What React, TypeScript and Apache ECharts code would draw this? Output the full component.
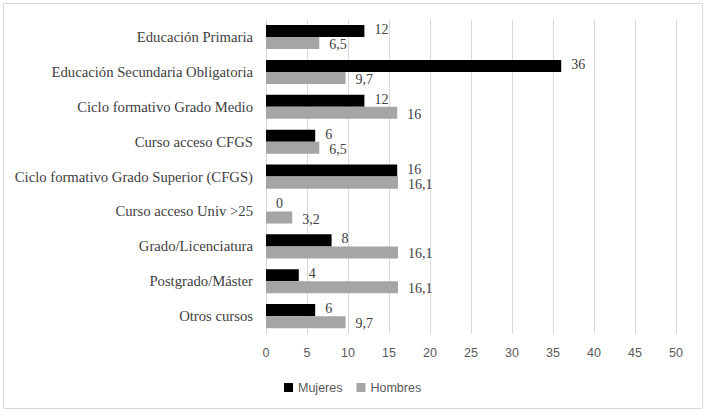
import React, { useEffect, useRef } from "react";
import * as echarts from "echarts";

const categories = [
  "Educación Primaria",
  "Educación Secundaria Obligatoria",
  "Ciclo formativo Grado Medio",
  "Curso acceso CFGS",
  "Ciclo formativo Grado Superior (CFGS)",
  "Curso acceso Univ >25",
  "Grado/Licenciatura",
  "Postgrado/Máster",
  "Otros cursos",
];
const mujeres = [12, 36, 12, 6, 16, 0, 8, 4, 6];
const hombres = [6.5, 9.7, 16, 6.5, 16.1, 3.2, 16.1, 16.1, 9.7];
const xTicks = { min: 0, max: 50, interval: 5 };

const serif = "'Liberation Serif', 'Times New Roman', serif";
const sans = "'Liberation Sans', Arial, sans-serif";

export default function App() {
  const ref = useRef<HTMLDivElement>(null);
  useEffect(() => {
    document.body.style.margin = "0";
    const chart = echarts.init(ref.current!, null, { renderer: "svg" });
    const makeLabel = (dy: number) => ({
      show: true,
      position: "right" as const,
      distance: 10,
      offset: [0, dy],
      fontFamily: serif,
      fontSize: 14,
      color: "#404040",
      formatter: (p: any) => String(p.value).replace(".", ","),
    });
    chart.setOption({
      animation: false,
      backgroundColor: "#ffffff",
      graphic: [
        {
          type: "rect",
          shape: { x: 3.5, y: 3.5, width: 699, height: 405 },
          style: { fill: "none", stroke: "#d9d9d9", lineWidth: 1 },
          silent: true,
        },
      ],
      grid: { left: 266, right: 33, top: 19.6, bottom: 84.4 },
      legend: {
        data: ["Mujeres", "Hombres"],
        left: 279,
        top: 376,
        itemWidth: 9,
        itemHeight: 9,
        itemGap: 14,
        icon: "rect",
        textStyle: { fontFamily: sans, fontSize: 12.5, color: "#595959" },
      },
      xAxis: {
        type: "value",
        min: xTicks.min,
        max: xTicks.max,
        interval: xTicks.interval,
        axisLine: { show: false },
        axisTick: { show: false },
        splitLine: { show: true, lineStyle: { color: "#d9d9d9", width: 1 } },
        axisLabel: { fontFamily: sans, fontSize: 12.5, color: "#595959", margin: 13 },
      },
      yAxis: {
        type: "category",
        data: categories,
        inverse: true,
        axisLine: { show: true, lineStyle: { color: "#d9d9d9" } },
        axisTick: { show: false },
        axisLabel: { fontFamily: serif, fontSize: 14.7, color: "#404040", margin: 13 },
      },
      series: [
        {
          name: "Mujeres",
          type: "bar",
          data: mujeres,
          itemStyle: { color: "#000000" },
          barGap: "0%",
          barCategoryGap: "31%",
          label: makeLabel(-1.5),
        },
        {
          name: "Hombres",
          type: "bar",
          data: hombres,
          itemStyle: { color: "#a5a5a5" },
          barGap: "0%",
          barCategoryGap: "31%",
          label: makeLabel(1.5),
        },
      ],
    });
    return () => chart.dispose();
  }, []);
  return <div ref={ref} style={{ width: 709, height: 418 }} />;
}
